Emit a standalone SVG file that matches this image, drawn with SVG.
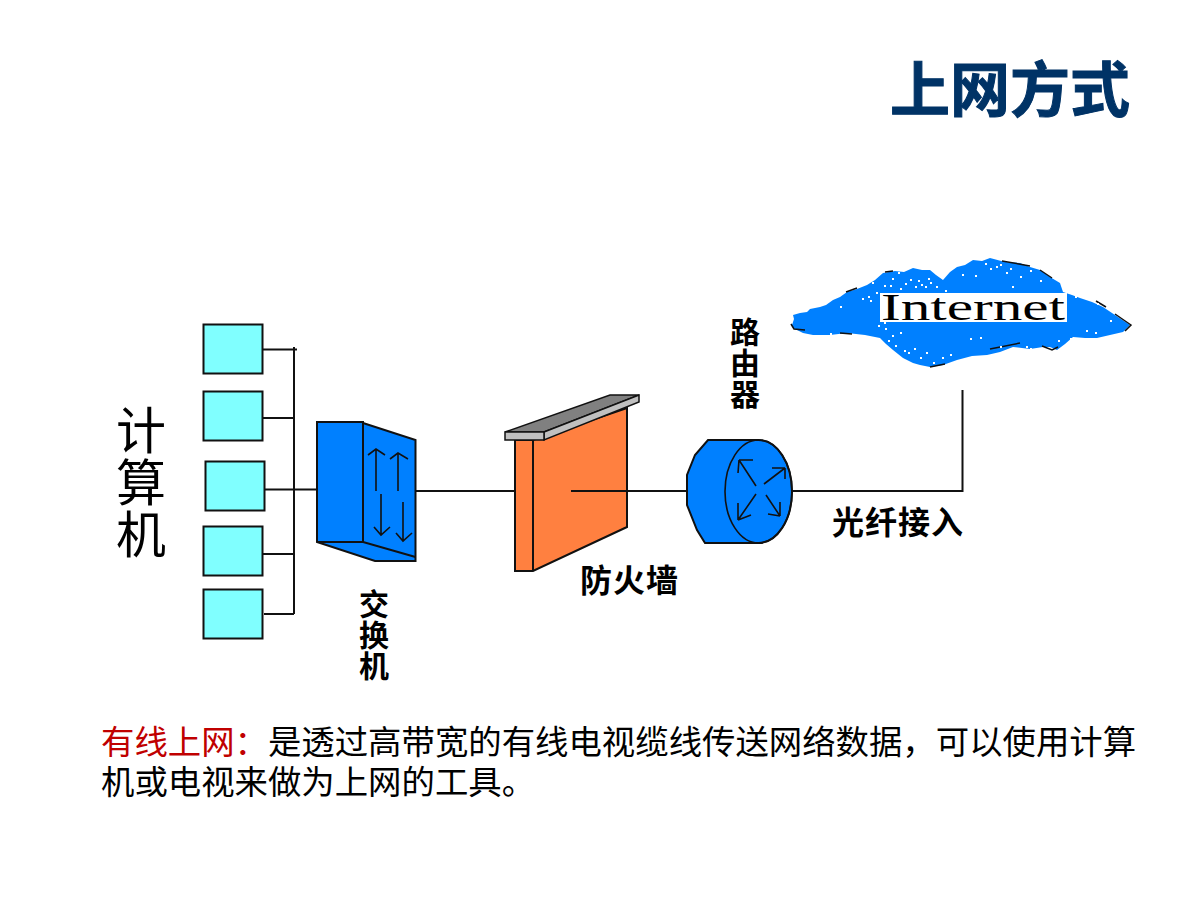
<svg xmlns="http://www.w3.org/2000/svg" width="1200" height="900" viewBox="0 0 1200 900">
<style>
text{font-family:"Noto Sans CJK SC","Noto Sans",sans-serif;fill:#000}
.pc{fill:#80ffff;stroke:#111;stroke-width:2}
.wire{fill:none;stroke:#111;stroke-width:2}
.thin{fill:none;stroke:#111;stroke-width:1.6}
.blue{fill:#0080ff;stroke:#111;stroke-width:2}
.org{fill:#ff8040;stroke:#111;stroke-width:2}
.lbl{font-size:32px;font-weight:700}
.vert{writing-mode:vertical-rl;font-size:30px;font-weight:700;letter-spacing:1px}
.body{font-size:33.4px}
</style>
<rect width="1200" height="900" fill="#fff"/>
<g id="title"><text x="890" y="112" font-size="60" font-weight="700" style="fill:#003366;stroke:#003366;stroke-width:1" textLength="240" lengthAdjust="spacingAndGlyphs">上网方式</text></g>
<g id="connectors">
<path class="wire" d="M263 349.500H297M294 347V614M263 418H294M264 489.500H317M263 554H294M264 614H294"/>
<path class="wire" d="M415 491H516M571 491H687M792 491H962.500V390"/>
</g>
<g id="pc1"><rect class="pc" x="203.500" y="324.500" width="59" height="49"/></g>
<g id="pc2"><rect class="pc" x="203.500" y="391.500" width="59" height="49"/></g>
<g id="pc3"><rect class="pc" x="205.500" y="461.500" width="59" height="49"/></g>
<g id="pc4"><rect class="pc" x="203.500" y="526.500" width="59" height="49"/></g>
<g id="pc5"><rect class="pc" x="203.500" y="589.500" width="59" height="49"/></g>
<g id="computer-label"><text x="141" y="405" style="writing-mode:vertical-rl;font-size:50px;letter-spacing:2px">计算机</text></g>
<g id="switch">
<path class="blue" d="M363 423L415.500 440V561H375L317 542V422H363Z"/>
<path class="wire" d="M363 422V542L415.500 557M317 542H363"/>
<path class="thin" d="M376 491V450M368 455L376 449L385 455M398 491V453M390 459L398 453L408 459M381 494V534M374 527L381 535L390 527M403 502V540M396 533L403 541L412 533"/>
<text class="vert" x="374" y="589">交换机</text>
</g>
<g id="firewall">
<path class="org" d="M515 440H533L627 408V527L533 571H515Z"/>
<path class="wire" d="M533 440V571"/>
<path d="M505 432L610 395H639L544 432Z" fill="#808080" stroke="#111" stroke-width="1.500"/>
<path d="M544 432L639 395V402L544 440Z" fill="#c0c0c0" stroke="#111" stroke-width="1.500"/>
<rect x="505" y="432" width="39" height="8" fill="#c0c0c0" stroke="#111" stroke-width="1.500"/>
<path class="wire" d="M571 491H627"/>
<text class="lbl" x="580" y="592" textLength="98" lengthAdjust="spacing">防火墙</text>
</g>
<g id="router">
<path class="blue" d="M708 440H758.500A33.500 51.500 0 0 1 758.500 543H705L697 530L687 505V475L695 455Z"/>
<ellipse cx="758.500" cy="491.500" rx="33.500" ry="51.500" fill="none" stroke="#111" stroke-width="1.600"/>
<path class="thin" d="M756 486L739 460M739 460H753M739 460L738 473M764 484L785 468M785 468H772M785 468V479M756 494L738 520M738 520L738 503M738 520L751 515M766 495L780 516M780 516L768 514M780 516V502"/>
<text class="vert" x="745" y="317">路由器</text>
</g>
<g id="fiber-label"><text class="lbl" x="832" y="534" textLength="131" lengthAdjust="spacing">光纤接入</text></g>
<g id="internet">
<path fill="#0080ff" d="M792 325L794 319L793 315L800 313L807 312L810 309L820 307L826 305L833 300L840 297L847 292L857 289L867 285L875 280L883 273L895 271L904 272L913 268L922 270L930 270L936 275L943 280L950 272L957 267L965 265L973 260L982 261L990 258L1005 262L1020 263L1030 267L1040 270L1050 277L1060 283L1063 292L1072 295L1080 298L1092 302L1103 307L1115 315L1130 325L1123 332L1110 335L1097 338L1085 338L1073 337L1065 344L1057 350L1050 347L1043 347L1030 349L1013 347L1000 352L987 355L972 356L957 360L943 365L930 367L920 365L913 363L903 358L893 350L886 344L880 338L865 335L847 333L830 335L813 335L803 333L793 328Z"/>
<path fill="none" stroke="#111" stroke-width="1.500" d="M791 324L794 329L805 330M840 333L852 334M846 292L857 288M885 272L893 271M1002 261L1030 266M1040 270L1052 278M1096 301L1106 307M1115 314L1131 325L1125 331M1042 346L1052 350L1058 347M990 349L1020 343M930 367L945 364"/>
<rect x="880" y="293" width="187" height="29" fill="#fff"/>
<text x="881" y="320" font-size="38" textLength="184" lengthAdjust="spacingAndGlyphs" style="font-family:'Liberation Serif',serif">Internet</text>
<path fill="#fff" d="M876 292h2v2h-2zM872 282h2v2h-2zM868 296h2v2h-2zM884 285h2v2h-2zM890 285h2v2h-2zM892 278h2v2h-2zM898 272h2v2h-2zM900 288h2v2h-2zM905 283h2v2h-2zM910 279h2v2h-2zM915 286h2v2h-2zM918 280h2v2h-2zM921 284h2v2h-2zM925 286h2v2h-2zM928 278h2v2h-2zM930 282h2v2h-2zM936 286h2v2h-2zM945 290h2v2h-2zM962 274h2v2h-2zM975 275h2v2h-2zM985 263h2v2h-2zM990 268h2v2h-2zM996 266h2v2h-2zM1000 264h2v2h-2zM1006 272h2v2h-2zM1010 268h2v2h-2zM1012 286h2v2h-2zM1020 276h2v2h-2zM1030 270h2v2h-2zM1040 280h2v2h-2zM1075 296h2v2h-2zM1097 303h2v2h-2zM1095 332h2v2h-2zM1070 338h2v2h-2zM870 300h2v2h-2zM862 298h2v2h-2zM878 325h2v2h-2zM884 322h2v2h-2zM885 328h2v2h-2zM892 335h2v2h-2zM888 340h2v2h-2zM900 332h2v2h-2zM895 345h2v2h-2zM904 350h2v2h-2zM908 352h2v2h-2zM914 348h2v2h-2zM920 357h2v2h-2zM926 352h2v2h-2zM933 362h2v2h-2zM942 357h2v2h-2zM950 354h2v2h-2zM970 338h2v2h-2zM980 337h2v2h-2zM1000 346h2v2h-2zM1005 350h2v2h-2zM1012 356h2v2h-2zM1020 352h2v2h-2zM1026 346h2v2h-2zM1030 348h2v2h-2zM1036 352h2v2h-2zM1040 355h2v2h-2zM1048 352h2v2h-2zM795 332h2v2h-2zM840 306h2v2h-2zM830 333h2v2h-2zM1110 320h2v2h-2zM1086 330h2v2h-2zM1058 340h2v2h-2z"/>
</g>
<g id="description">
<text class="body" x="101" y="754"><tspan style="fill:#c00000">有线上网：</tspan>是透过高带宽的有线电视缆线传送网络数据，可以使用计算</text>
<text class="body" x="101" y="794">机或电视来做为上网的工具。</text>
</g>
</svg>
